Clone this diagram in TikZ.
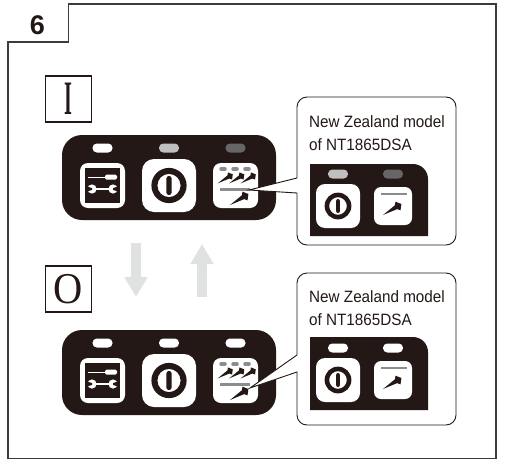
\documentclass[tikz,border=0pt]{standalone}
\usepackage{fontspec}
\setmainfont{Liberation Sans}
\newfontfamily\serifglyph{Liberation Serif}
\newfontfamily\notefont[FakeStretch=.93]{Liberation Sans}
\usetikzlibrary{arrows.meta}
\definecolor{inkblack}{HTML}{231815}
\definecolor{framegray}{HTML}{3C3C3C}
\definecolor{arrowgray}{HTML}{E0E2E1}
\definecolor{barGray}{HTML}{8C8C8C}
\tikzset{
  panel/.style={rectangle, rounded corners=20pt, fill=inkblack, inner sep=0pt, minimum width=214pt, minimum height=85pt},
  led/.style={rectangle, rounded corners=4.3pt, inner sep=0pt, minimum width=20pt, minimum height=9pt},
  keybtn/.style={rectangle, rounded corners=8pt, fill=white, inner sep=0pt, minimum size=45pt},
  powerbtn/.style={rectangle, rounded corners=12pt, fill=white, inner sep=0pt, minimum width=54pt, minimum height=53pt},
  statebox/.style={rectangle, draw=inkblack, line width=1.6pt, inner sep=0pt, minimum size=46pt, text=inkblack},
  bubble/.style={draw=inkblack, line width=.9pt, fill=white},
  note/.style={font=\notefont\fontsize{16.4}{23}\selectfont, align=left, inner sep=0pt, anchor=north west, text=inkblack},
  togglearrow/.style={-{Triangle[width=22pt,length=20pt]}, line width=10pt, arrowgray},
  powerring/.pic={
    \fill [inkblack, even odd rule] (0,0) circle (17.6pt) (0,0) circle (11.6pt);
    \fill [inkblack, rounded corners=2.4pt] (-2.6,-9.5) rectangle (2.6,9.5);
  },
  screw/.pic={
    \fill [inkblack] (-15,9) -- (-3.1,-.7) -- (-2.5,-4.3) -- (3.4,-2) -- (2.5,4.3) -- (-.9,3.1) -- cycle;
  },
  wrenchkey/.pic={
    \fill [white] (-14.5,-9) rectangle (3,-8);
    \fill [white, rounded corners=1.5pt] (2.5,-11) rectangle (14.5,-6);
    \draw [white, line width=2.6pt] (-10,3.5) -- (10,3.5);
    \fill [white] (-10.5,3.5) circle (4.6pt);
    \fill [white] (10.5,3.5) circle (4.6pt);
    \fill [inkblack] (-16,.8) -- (-10.5,2.6) -- (-10.5,4.4) -- (-16,6.2) -- cycle;
    \fill [inkblack] (16,.8) -- (10.5,2.6) -- (10.5,4.4) -- (16,6.2) -- cycle;
  }
}
\begin{document}
\begin{tikzpicture}[x=1pt, y=-1pt]
  \useasboundingbox (0,0) rectangle (505,460);
  % outer frame with tab
  \draw [framegray, line width=1.2pt] (8,458.5) -- (8,42) -- (68.5,42) -- (68.5,4) -- (496,4) -- (496,458.5) -- cycle;
  \node [font=\bfseries\fontsize{27}{27}\selectfont, text=inkblack, inner sep=0pt] (step) at (37.5,25.5) {6};

  \node [statebox, font=\serifglyph\bfseries\fontsize{48}{48}\selectfont] (onbox) at (68.5,99) {\scalebox{.42}[1]{I}};
  \node [statebox, font=\serifglyph\fontsize{44}{44}\selectfont] (offbox) at (68.5,289) {\scalebox{.92}[1]{O}};

  % the two main panels
  \foreach \ypos/\name/\ledb/\ledc in {177.5/top/black!25/black!60, 372.5/bot/white/white} {
    \node [panel] (\name panel) at (169,\ypos) {};
    \node [led, fill=white] (\name leda) at (102.5,\ypos-29.5) {};
    \node [led, fill=\ledb] (\name ledb) at (169,\ypos-29.5) {};
    \node [led, fill=\ledc] (\name ledc) at (235.5,\ypos-29.5) {};
    \node [keybtn] (\name wrench) at (102.5,\ypos+8) {};
    \node [rectangle, fill=inkblack, inner sep=0pt, minimum size=35.5pt] (\name wrenchin) at (\name wrench) {};
    \pic at (\name wrench) {wrenchkey};
    \node [powerbtn] (\name power) at (169,\ypos+8) {};
    \pic at (\name power) {powerring};
    \node [keybtn] (\name tack) at (235.5,\ypos+8) {};
    \foreach \i in {0,1,2} {
      \draw [barGray, line width=3.5pt, line cap=round] (221+12*\i,\ypos-8.5) -- (225+12*\i,\ypos-8.5);
      \pic [scale=.82] at (230+11.5*\i,\ypos-1.5) {screw};
    }
    \draw [barGray, line width=3pt] (220,\ypos+12) -- (250,\ypos+12);
    \pic at (245,\ypos+18.5) {screw};
  }

  % toggling arrows
  \coordinate (downa) at (136,243);
  \coordinate (downb) at (136,297);
  \coordinate (upa) at (202,297);
  \coordinate (upb) at (202,244);
  \draw [togglearrow] (downa) -- (downb);
  \draw [togglearrow] (upa) -- (upb);

  % first callout
  \coordinate (toptip) at (249,190);
  \draw [bubble] (297,178) [rounded corners=10pt] -- (297,97) -- (456,97) -- (456,245) -- (297,245) [sharp corners] -- (297,193) -- (toptip) -- cycle;
  \node [note] (topnote) at (309,115.5) {New Zealand model\\of NT1865DSA};
  \fill [inkblack, rounded corners=15pt] (310,164) -- (428,164) -- (428,236) [sharp corners] -- (428,236) -- (310,236) -- cycle;
  \node [led, fill=black!25] (topsmalla) at (338,174) {};
  \node [led, fill=black!60] (topsmallb) at (393,174) {};
  \node [powerbtn, minimum width=44pt, minimum height=44pt, rounded corners=9pt] (topsmallp) at (338,206) {};
  \pic [scale=.76] at (topsmallp) {powerring};
  \node [keybtn, minimum size=38pt, rounded corners=7pt] (topsmallt) at (393,206) {};
  \draw [barGray, line width=2.4pt] (381,194) -- (407,194);
  \pic at (398,206) {screw};

  % second callout
  \coordinate (bottip) at (250,388);
  \draw [bubble] (297,355) [rounded corners=10pt] -- (297,273) -- (456,273) -- (456,425) -- (297,425) [sharp corners] -- (297,372) -- (bottip) -- cycle;
  \node [note] (botnote) at (309,290) {New Zealand model\\of NT1865DSA};
  \fill [inkblack, rounded corners=15pt] (310,337) -- (428,337) -- (428,410) [sharp corners] -- (428,410) -- (310,410) -- cycle;
  \node [led, fill=white] (botsmalla) at (338,348) {};
  \node [led, fill=white] (botsmallb) at (393,348) {};
  \node [powerbtn, minimum width=44pt, minimum height=44pt, rounded corners=9pt] (botsmallp) at (338,380) {};
  \pic [scale=.76] at (botsmallp) {powerring};
  \node [keybtn, minimum size=38pt, rounded corners=7pt] (botsmallt) at (393,380) {};
  \draw [barGray, line width=2.4pt] (381,368) -- (407,368);
  \pic at (398,380) {screw};
\end{tikzpicture}
\end{document}
